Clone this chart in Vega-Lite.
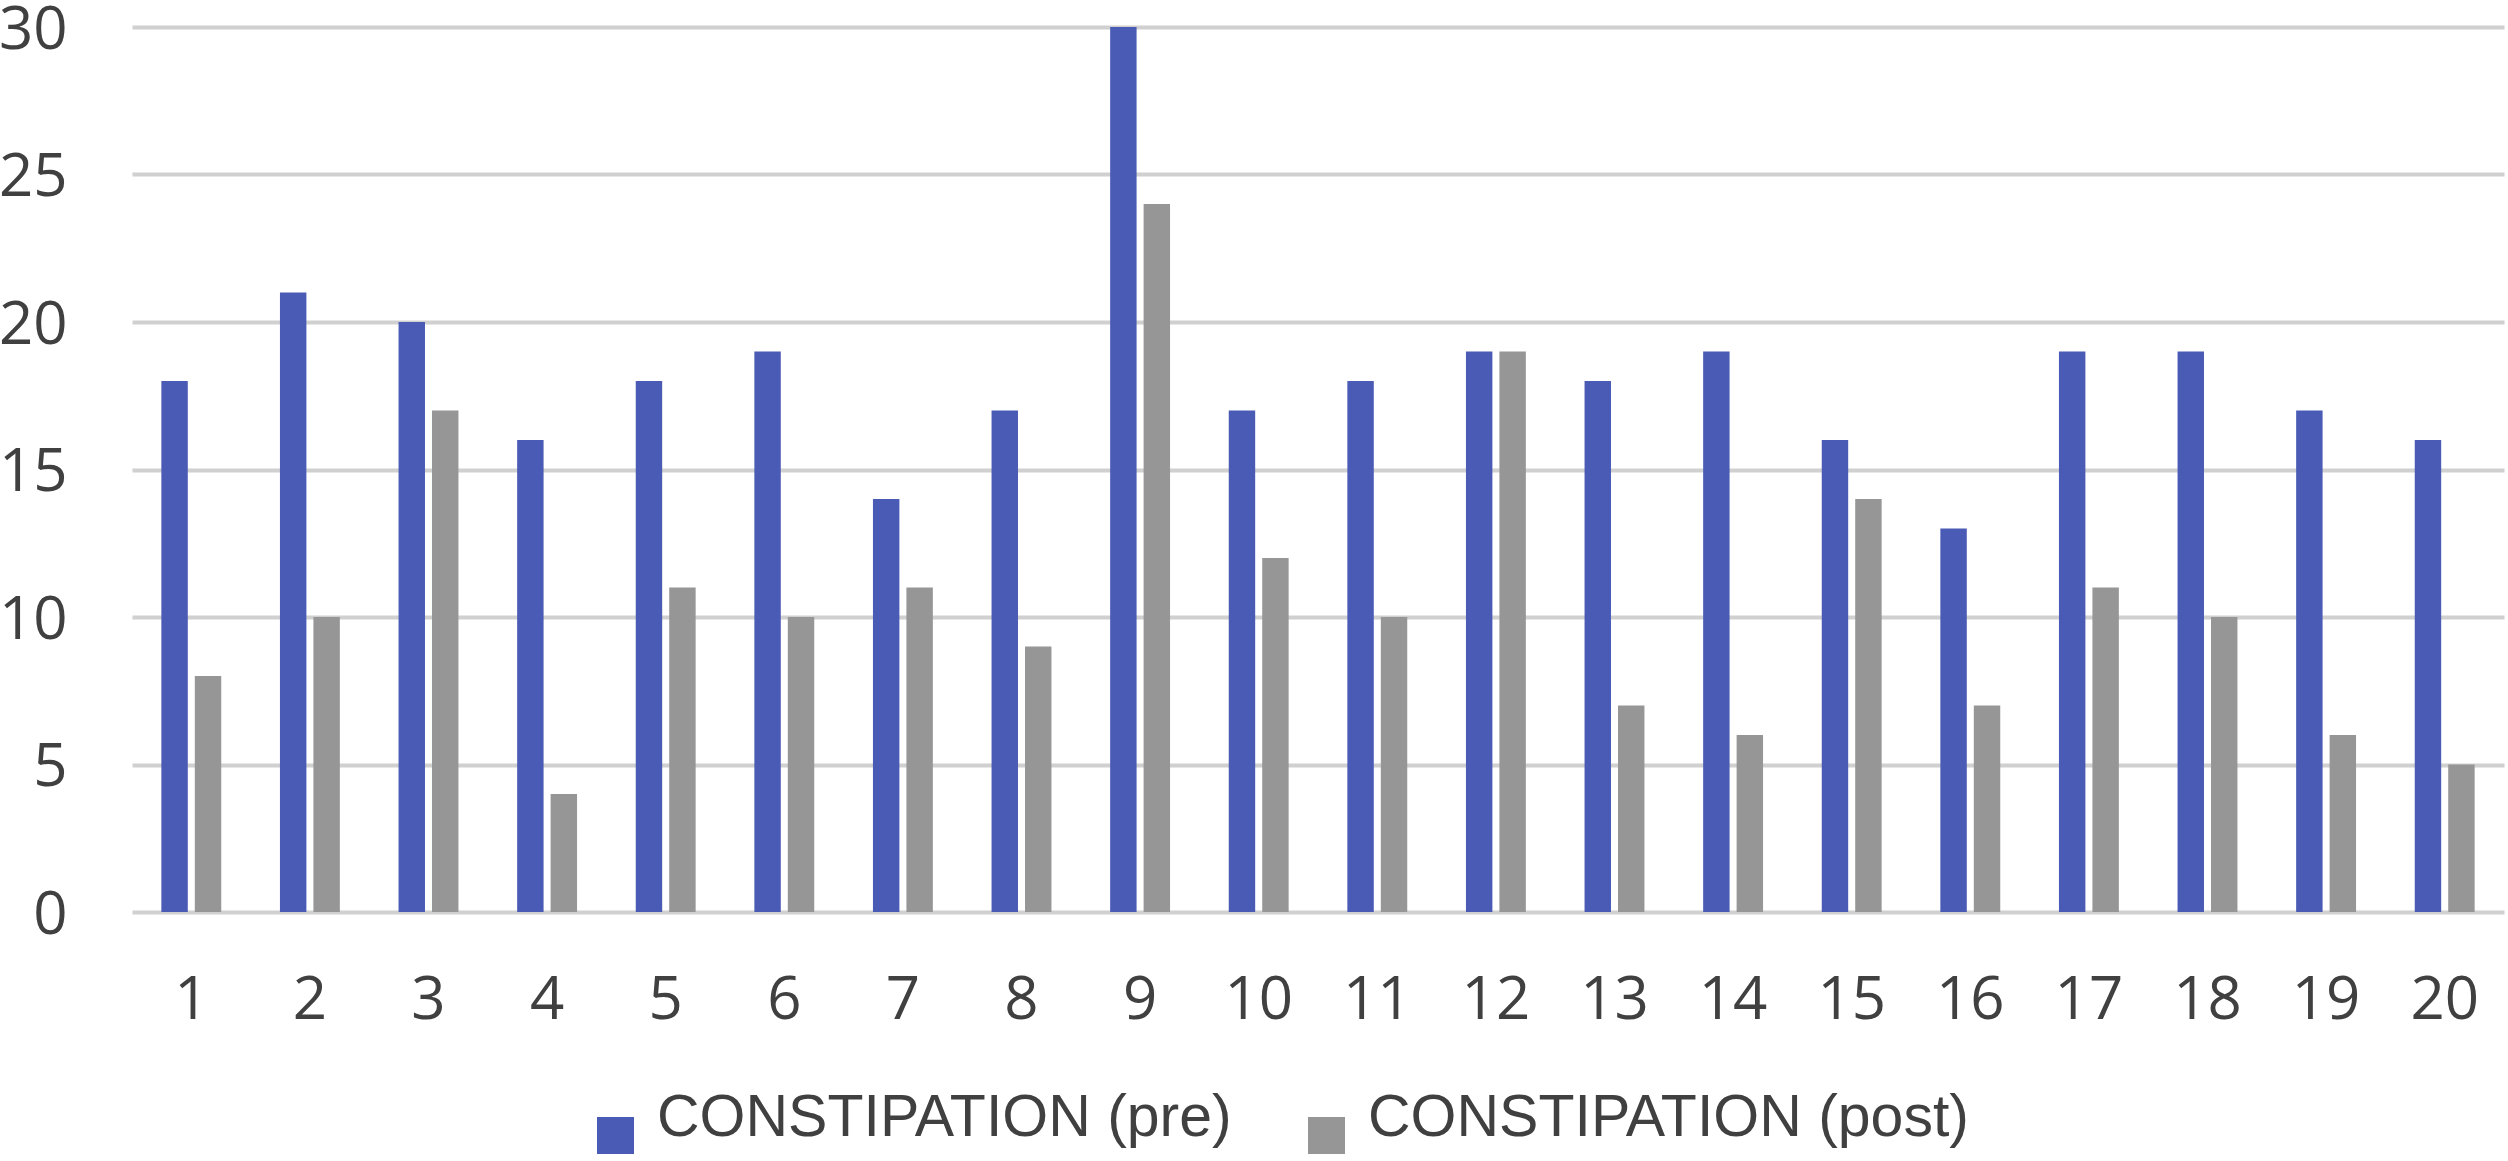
{
  "$schema": "https://vega.github.io/schema/vega-lite/v6.json",
  "width": 2372,
  "height": 885,
  "autosize": "none",
  "padding": {"left": 132, "top": 27, "right": 4, "bottom": 249},
  "background": "white",
  "config": {"view": {"stroke": null}, "font": "Open Sans"},
  "data": {
    "values": [
      {"id": 1, "series": "CONSTIPATION (pre)", "value": 18},
      {"id": 1, "series": "CONSTIPATION (post)", "value": 8},
      {"id": 2, "series": "CONSTIPATION (pre)", "value": 21},
      {"id": 2, "series": "CONSTIPATION (post)", "value": 10},
      {"id": 3, "series": "CONSTIPATION (pre)", "value": 20},
      {"id": 3, "series": "CONSTIPATION (post)", "value": 17},
      {"id": 4, "series": "CONSTIPATION (pre)", "value": 16},
      {"id": 4, "series": "CONSTIPATION (post)", "value": 4},
      {"id": 5, "series": "CONSTIPATION (pre)", "value": 18},
      {"id": 5, "series": "CONSTIPATION (post)", "value": 11},
      {"id": 6, "series": "CONSTIPATION (pre)", "value": 19},
      {"id": 6, "series": "CONSTIPATION (post)", "value": 10},
      {"id": 7, "series": "CONSTIPATION (pre)", "value": 14},
      {"id": 7, "series": "CONSTIPATION (post)", "value": 11},
      {"id": 8, "series": "CONSTIPATION (pre)", "value": 17},
      {"id": 8, "series": "CONSTIPATION (post)", "value": 9},
      {"id": 9, "series": "CONSTIPATION (pre)", "value": 30},
      {"id": 9, "series": "CONSTIPATION (post)", "value": 24},
      {"id": 10, "series": "CONSTIPATION (pre)", "value": 17},
      {"id": 10, "series": "CONSTIPATION (post)", "value": 12},
      {"id": 11, "series": "CONSTIPATION (pre)", "value": 18},
      {"id": 11, "series": "CONSTIPATION (post)", "value": 10},
      {"id": 12, "series": "CONSTIPATION (pre)", "value": 19},
      {"id": 12, "series": "CONSTIPATION (post)", "value": 19},
      {"id": 13, "series": "CONSTIPATION (pre)", "value": 18},
      {"id": 13, "series": "CONSTIPATION (post)", "value": 7},
      {"id": 14, "series": "CONSTIPATION (pre)", "value": 19},
      {"id": 14, "series": "CONSTIPATION (post)", "value": 6},
      {"id": 15, "series": "CONSTIPATION (pre)", "value": 16},
      {"id": 15, "series": "CONSTIPATION (post)", "value": 14},
      {"id": 16, "series": "CONSTIPATION (pre)", "value": 13},
      {"id": 16, "series": "CONSTIPATION (post)", "value": 7},
      {"id": 17, "series": "CONSTIPATION (pre)", "value": 19},
      {"id": 17, "series": "CONSTIPATION (post)", "value": 11},
      {"id": 18, "series": "CONSTIPATION (pre)", "value": 19},
      {"id": 18, "series": "CONSTIPATION (post)", "value": 10},
      {"id": 19, "series": "CONSTIPATION (pre)", "value": 17},
      {"id": 19, "series": "CONSTIPATION (post)", "value": 6},
      {"id": 20, "series": "CONSTIPATION (pre)", "value": 16},
      {"id": 20, "series": "CONSTIPATION (post)", "value": 5}
    ]
  },
  "mark": {"type": "bar"},
  "encoding": {
    "x": {
      "field": "id",
      "type": "ordinal",
      "scale": {"paddingInner": 0.495, "paddingOuter": 0.2475},
      "axis": {
        "title": null,
        "labelAngle": 0,
        "domain": false,
        "ticks": false,
        "tickSize": 0,
        "grid": false,
        "labelPadding": 59,
        "labelFontSize": 60,
        "labelFont": "Open Sans",
        "labelColor": "#404040"
      }
    },
    "xOffset": {
      "field": "series",
      "type": "nominal",
      "sort": ["CONSTIPATION (pre)", "CONSTIPATION (post)"],
      "scale": {"paddingInner": 0.21, "paddingOuter": 0}
    },
    "y": {
      "field": "value",
      "type": "quantitative",
      "scale": {"domain": [0, 30], "nice": false},
      "axis": {
        "title": null,
        "values": [0, 5, 10, 15, 20, 25, 30],
        "domain": false,
        "ticks": false,
        "tickSize": 0,
        "labelPadding": 65,
        "labelOffset": 3,
        "labelFontSize": 60,
        "labelFont": "Open Sans",
        "labelColor": "#404040",
        "gridColor": "#d0d0d0",
        "gridWidth": 4
      }
    },
    "color": {
      "field": "series",
      "type": "nominal",
      "scale": {
        "domain": ["CONSTIPATION (pre)", "CONSTIPATION (post)"],
        "range": ["#4a5bb5", "#969696"]
      },
      "legend": {
        "title": null,
        "orient": "none",
        "legendX": 454,
        "legendY": 1079,
        "direction": "horizontal",
        "symbolType": "square",
        "symbolSize": 1369,
        "symbolStrokeWidth": 0,
        "labelFont": "Liberation Sans",
        "labelFontSize": 59,
        "labelColor": "#404040",
        "labelBaseline": "alphabetic",
        "labelOffset": 12,
        "columnPadding": 65,
        "labelLimit": 1000
      }
    }
  }
}
